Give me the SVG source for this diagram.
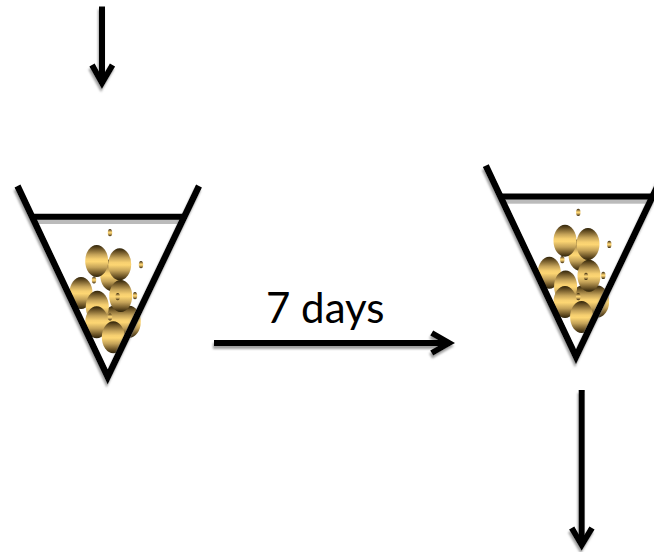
<svg xmlns="http://www.w3.org/2000/svg" xmlns:xlink="http://www.w3.org/1999/xlink" width="654" height="552" viewBox="0 0 654 552">
  <style>
    .line { fill: none; stroke: #000; stroke-width: 6.5; stroke-linejoin: miter; }
    .rim { fill: none; stroke: #000; stroke-width: 6; }
    .arrow { fill: none; stroke: #000; stroke-width: 6; }
    .big { fill: url(#gold); }
    .small { fill: url(#gold); }
    .label { font-family: "Lato", "Liberation Sans", sans-serif; font-size: 42px; fill: #000; }
  </style>
  <defs>
    <!-- metallic banding on every bead -->
    <linearGradient id="gold" x1="0" y1="0" x2="0" y2="1">
      <stop offset="0" stop-color="#2e2208"/>
      <stop offset="0.12" stop-color="#6d5527"/>
      <stop offset="0.3" stop-color="#c4a258"/>
      <stop offset="0.44" stop-color="#f6cf70"/>
      <stop offset="0.52" stop-color="#fdd673"/>
      <stop offset="0.7" stop-color="#c4a258"/>
      <stop offset="0.88" stop-color="#6d5527"/>
      <stop offset="1" stop-color="#2e2208"/>
    </linearGradient>
    <filter id="shadow" x="-20%" y="-20%" width="140%" height="140%">
      <feDropShadow dx="-1" dy="3" stdDeviation="1" flood-color="#777" flood-opacity="0.7"/>
    </filter>
    <filter id="arrowShadow" filterUnits="userSpaceOnUse" x="0" y="0" width="654" height="552">
      <feDropShadow dx="-1" dy="3" stdDeviation="1" flood-color="#777" flood-opacity="0.7"/>
    </filter>
    <!-- conical tube holding the bead cluster -->
    <g id="tube">
      <rect x="34" y="219" width="149" height="5" fill="#bbb"/>
      <ellipse class="big" cx="111.7" cy="275" rx="11.5" ry="16"/>
      <ellipse class="big" cx="129.3" cy="321.7" rx="11.5" ry="16"/>
      <ellipse class="big" cx="114" cy="321.7" rx="11.5" ry="16"/>
      <ellipse class="big" cx="96.7" cy="261" rx="11.5" ry="16"/>
      <ellipse class="big" cx="119.7" cy="264.3" rx="11.5" ry="16"/>
      <ellipse class="big" cx="81" cy="293" rx="11.5" ry="16"/>
      <ellipse class="big" cx="97.3" cy="306.7" rx="11.5" ry="16"/>
      <ellipse class="big" cx="120.7" cy="296" rx="11.5" ry="16"/>
      <ellipse class="big" cx="96.7" cy="322.3" rx="11.5" ry="16"/>
      <ellipse class="big" cx="113.3" cy="337.3" rx="11.5" ry="16"/>
      <ellipse class="small" cx="110" cy="232.7" rx="2.2" ry="3.6"/>
      <ellipse class="small" cx="141" cy="264.7" rx="2.2" ry="3.6"/>
      <ellipse class="small" cx="94" cy="280" rx="2.2" ry="3.6"/>
      <ellipse class="small" cx="135" cy="295.7" rx="2.2" ry="3.6"/>
      <ellipse class="small" cx="117.7" cy="296.7" rx="2.2" ry="3.6"/>
      <ellipse class="small" cx="110" cy="317" rx="2.2" ry="3.6"/>
      <g filter="url(#shadow)">
        <path class="line" d="M17.5 186 L107.7 377 L199 186"/>
      </g>
      <path class="rim" d="M32 216.7 H184"/>
    </g>
  </defs>

  <g id="tube-before">
    <use href="#tube" xlink:href="#tube"/>
  </g>
  <g id="tube-after">
    <use href="#tube" xlink:href="#tube" transform="translate(468.3 -20.3)"/>
  </g>

  <g id="connectors" filter="url(#arrowShadow)">
    <path class="arrow" d="M102 6.5 V80"/>
    <path class="arrow" d="M92 65 L102 83 L112.5 65"/>
    <path class="arrow" d="M214 343 H448"/>
    <path class="arrow" d="M431.7 333 L449 343 L431.7 353"/>
    <path class="arrow" d="M581.7 390 V542"/>
    <path class="arrow" d="M571.7 528 L581.7 545 L592 528"/>
  </g>

  <g id="interval-label">
    <text class="label" x="266" y="323">7 days</text>
  </g>
</svg>
